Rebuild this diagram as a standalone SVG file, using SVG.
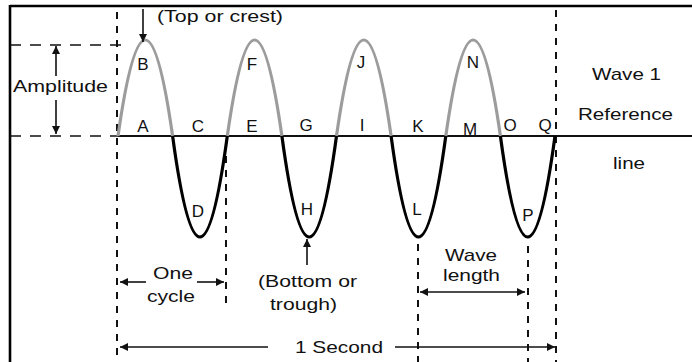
<svg xmlns="http://www.w3.org/2000/svg" width="692" height="362" viewBox="0 0 692 362">
<style>
text{font-family:"Liberation Sans",Arial,sans-serif;fill:#111}
.w{font-size:17px}
.l{font-size:17px;text-anchor:middle}
.vd{stroke:#111;stroke-width:2;stroke-dasharray:7 7;fill:none}
.hd{stroke:#111;stroke-width:1.6;stroke-dasharray:11 9;fill:none}
.ar{stroke:#111;stroke-width:1.6;fill:none}
.crest{stroke:#9c9c9c;stroke-width:3.2;fill:none}
.trough{stroke:#000;stroke-width:3.2;fill:none}
</style>
<defs>
<marker id="ah" viewBox="0 0 10 10" refX="10" refY="5" markerWidth="9" markerHeight="8" markerUnits="userSpaceOnUse" orient="auto">
<path d="M0,0 L10,5 L0,10 Z" fill="#111"/>
</marker>
</defs>
<rect width="692" height="362" fill="#fff"/>
<g id="frame" stroke="#000" stroke-width="2.6">
<line x1="10" y1="6" x2="692" y2="6"/>
<line x1="10" y1="5" x2="10" y2="362"/>
</g>
<g id="guides">
<line class="hd" x1="10" y1="45" x2="128" y2="45"/>
<line class="hd" x1="10" y1="136" x2="118" y2="136"/>
<line class="vd" x1="117" y1="12" x2="117" y2="362"/>
<line class="vd" x1="226" y1="142" x2="226" y2="306"/>
<line class="vd" x1="418" y1="244" x2="418" y2="362"/>
<line class="vd" x1="528" y1="246" x2="528" y2="362"/>
<line class="vd" x1="556" y1="10" x2="556" y2="362"/>
<line x1="118" y1="136" x2="692" y2="136" stroke="#111" stroke-width="2"/>
</g>
<g id="wave">
<path class="crest" d="M118,136 Q145.3,-56 172.6,136"/>
<path class="crest" d="M227.3,136 Q254.6,-56 281.9,136"/>
<path class="crest" d="M336.5,136 Q363.8,-56 391.1,136"/>
<path class="crest" d="M445.8,136 Q473.1,-56 500.4,136"/>
<path class="trough" d="M172.6,136 Q199.9,338 227.3,136"/>
<path class="trough" d="M281.9,136 Q309.2,338 336.5,136"/>
<path class="trough" d="M391.1,136 Q418.4,338 445.8,136"/>
<path class="trough" d="M500.4,136 Q527.7,338 555,136"/>
</g>
<g id="connectors">
<line class="ar" x1="143" y1="9" x2="143" y2="42" marker-end="url(#ah)"/>
<line class="ar" x1="56" y1="76" x2="56" y2="46" marker-end="url(#ah)"/>
<line class="ar" x1="56" y1="100" x2="56" y2="134" marker-end="url(#ah)"/>
<line class="ar" x1="146" y1="282" x2="120" y2="282" marker-end="url(#ah)"/>
<line class="ar" x1="197" y1="282" x2="224" y2="282" marker-end="url(#ah)"/>
<line class="ar" x1="307" y1="265" x2="307" y2="239" marker-end="url(#ah)"/>
<line class="ar" x1="470" y1="292" x2="420" y2="292" marker-end="url(#ah)"/>
<line class="ar" x1="470" y1="292" x2="525" y2="292" marker-end="url(#ah)"/>
<line class="ar" x1="268" y1="347" x2="120" y2="347" marker-end="url(#ah)"/>
<line class="ar" x1="395" y1="347" x2="555" y2="347" marker-end="url(#ah)"/>
</g>
<g id="labels">
<text class="w" x="157" y="22" textLength="126" lengthAdjust="spacingAndGlyphs">(Top or crest)</text>
<text class="w" x="13" y="92" textLength="95" lengthAdjust="spacingAndGlyphs">Amplitude</text>
<text class="w" x="592" y="80" textLength="69" lengthAdjust="spacingAndGlyphs">Wave 1</text>
<text class="w" x="578" y="120" textLength="95" lengthAdjust="spacingAndGlyphs">Reference</text>
<text class="w" x="613" y="169" textLength="32" lengthAdjust="spacingAndGlyphs">line</text>
<text class="w" x="153" y="279" textLength="40" lengthAdjust="spacingAndGlyphs">One</text>
<text class="w" x="147" y="302" textLength="48" lengthAdjust="spacingAndGlyphs">cycle</text>
<text class="w" x="258" y="287" textLength="99" lengthAdjust="spacingAndGlyphs">(Bottom or</text>
<text class="w" x="270" y="310" textLength="67" lengthAdjust="spacingAndGlyphs">trough)</text>
<text class="w" x="445" y="261" textLength="52" lengthAdjust="spacingAndGlyphs">Wave</text>
<text class="w" x="443" y="281" textLength="57" lengthAdjust="spacingAndGlyphs">length</text>
<text class="w" x="295" y="353" textLength="88" lengthAdjust="spacingAndGlyphs">1 Second</text>
</g>
<g id="points">
<text class="l" x="143" y="70">B</text>
<text class="l" x="252" y="70">F</text>
<text class="l" x="361" y="68">J</text>
<text class="l" x="473" y="68">N</text>
<text class="l" x="143" y="132">A</text>
<text class="l" x="198" y="132">C</text>
<text class="l" x="252" y="132">E</text>
<text class="l" x="306" y="131">G</text>
<text class="l" x="362" y="131">I</text>
<text class="l" x="418" y="132">K</text>
<text class="l" x="470" y="135">M</text>
<text class="l" x="510" y="131">O</text>
<text class="l" x="545" y="131">Q</text>
<text class="l" x="198" y="217">D</text>
<text class="l" x="307" y="215">H</text>
<text class="l" x="417" y="215">L</text>
<text class="l" x="528" y="221">P</text>
</g>
</svg>
